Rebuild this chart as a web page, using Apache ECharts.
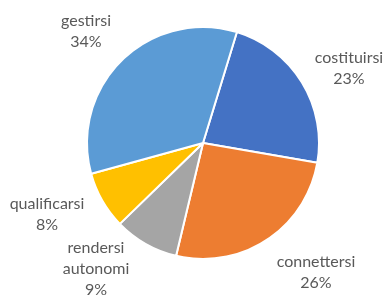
<!DOCTYPE html>
<html>
<head>
<meta charset="utf-8">
<script src="https://cdn.jsdelivr.net/npm/echarts@6/dist/echarts.min.js"></script>
<style>
  html, body { margin: 0; padding: 0; background: #fff; }
  #chart { width: 385px; height: 295px; }
</style>
</head>
<body>
<div id="chart"></div>
<script>
// dati
const categories = ['costituirsi', 'connettersi', 'rendersi autonomi', 'qualificarsi', 'gestirsi']
const values = [23, 26, 9, 8, 34]
const colors = ['#4472C4', '#ED7D31', '#A5A5A5', '#FFC000', '#5B9BD5']

// posizione delle etichette (centro del blocco di testo)
const labelPos = [[349, 68], [316, 272], [96, 269], [47, 214], [86, 31]]

const myChart = echarts.init(document.getElementById('chart'))

const option = {
  animation: false,
  series: [
    {
      type: 'pie',
      center: [203, 143],
      radius: 116,
      startAngle: 73,
      clockwise: true,
      data: categories.map((name, i) => ({
        name: name,
        value: values[i],
        itemStyle: { color: colors[i] }
      })),
      itemStyle: {
        borderColor: '#fff',
        borderWidth: 2
      },
      label: {
        show: true,
        position: 'outside',
        overflow: 'none',
        formatter: p => p.name.replace(' ', '\n') + '\n' + p.percent + '%',
        fontFamily: 'Lato',
        fontSize: 16,
        lineHeight: 21,
        color: '#595959',
        align: 'center'
      },
      labelLine: { show: false },
      labelLayout: params => ({
        x: labelPos[params.dataIndex][0],
        y: labelPos[params.dataIndex][1],
        align: 'center',
        verticalAlign: 'middle'
      })
    }
  ]
}

myChart.setOption(option)
</script>
</body>
</html>
